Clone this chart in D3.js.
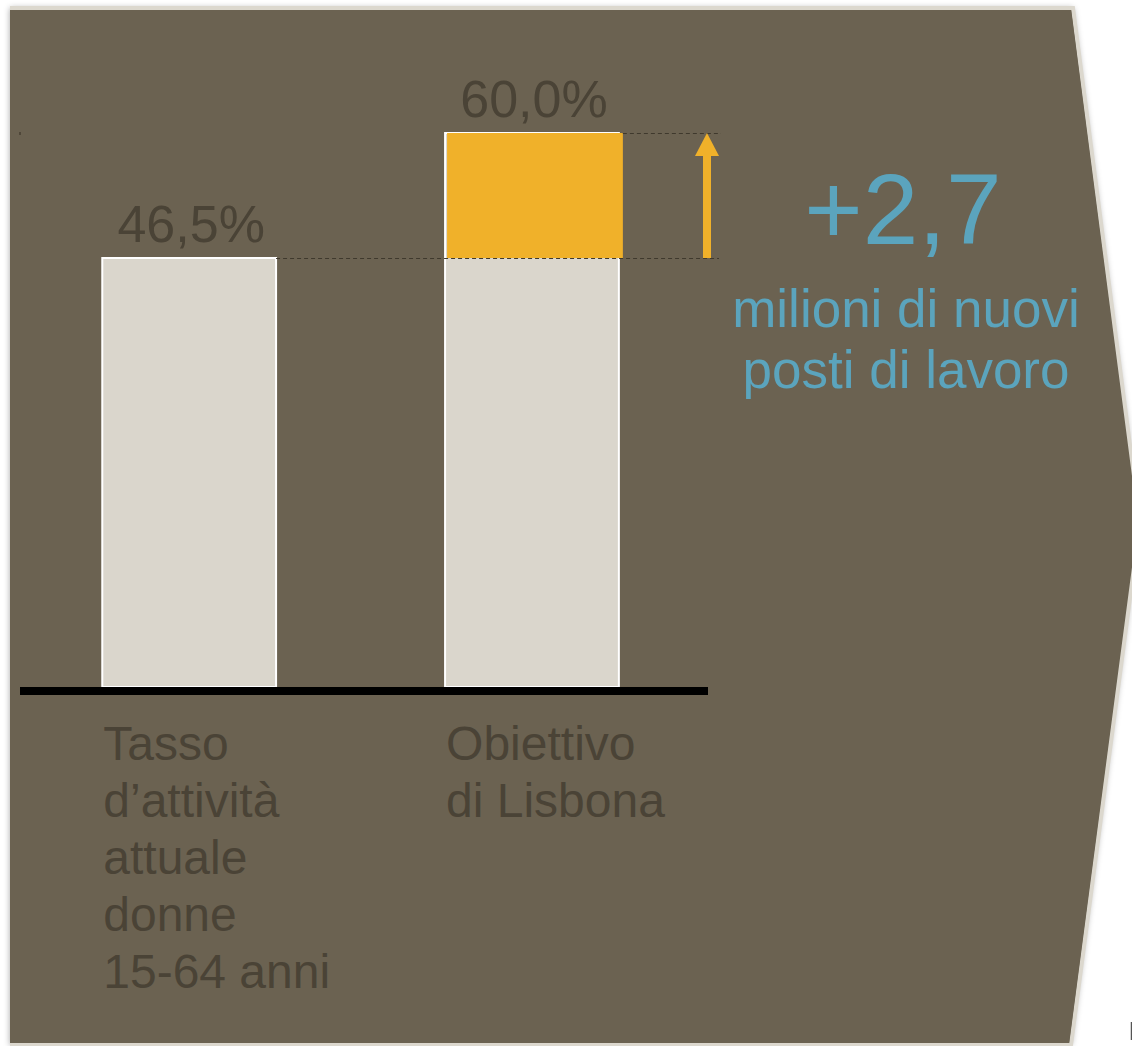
<!DOCTYPE html>
<html>
<head>
<meta charset="utf-8">
<script src="https://cdn.jsdelivr.net/npm/d3@7"></script>
<style>
  body { margin: 0; background: #fff; }
  text { font-family: "Liberation Sans", Arial, sans-serif; }
</style>
</head>
<body>
<div id="viz-container"></div>
<script>
const categories = ["attuale", "obiettivo"];
const categoryLines = [
  ["Tasso", "d’attività", "attuale", "donne", "15-64 anni"],
  ["Obiettivo", "di Lisbona"]
];
const baseValues = [46.5, 46.5];
const gapValues = [0, 13.5];
const valueLabels = ["46,5%", "60,0%"];
const highlightValue = "+2,7";
const highlightLines = ["milioni di nuovi", "posti di lavoro"];

function chevronVisual() {
  const width = 1132, height = 1046;
  const bg = "#6b6251", dark = "#4a4336", blue = "#5ba4bd",
    orange = "#f0b12a", barGray = "#dad6cc", edge = "#dcd8ce";

  const svg = d3.select("#viz-container").append("svg")
    .attr("width", width)
    .attr("height", height);

  svg.append("defs").append("filter")
      .attr("id", "shadow")
      .attr("x", "-5%").attr("y", "-5%")
      .attr("width", "110%").attr("height", "110%")
    .append("feDropShadow")
      .attr("dx", 0).attr("dy", 0)
      .attr("stdDeviation", 3)
      .attr("flood-color", "#000")
      .attr("flood-opacity", 0.35);

  // panel with pointed right side
  svg.append("polygon")
    .attr("points", "10,8 1073,8 1140,522 1071,1045 10,1045")
    .attr("fill", bg)
    .attr("filter", "url(#shadow)");
  svg.append("polyline")
    .attr("points", "10,8 1073,8 1140,522 1071,1045 10,1045")
    .attr("fill", "none")
    .attr("stroke", edge)
    .attr("stroke-width", 4);
  svg.append("polygon")
    .attr("points", "10,10 1071,10 1137,522 1069,1043 10,1043")
    .attr("fill", bg);

  const x = d3.scaleBand()
    .domain(categories)
    .range([20, 708])
    .paddingInner(0.493)
    .paddingOuter(0.25)
    .align(0.48);

  const y = d3.scaleLinear()
    .domain([0, 60])
    .range([687, 133])
    .interpolate(d3.interpolateRound);

  const rows = categories.map((c, i) => ({
    key: c, base: baseValues[i], gap: gapValues[i],
    total: baseValues[i] + gapValues[i], label: valueLabels[i], lines: categoryLines[i]
  }));

  // bars
  svg.append("g")
    .selectAll("rect")
    .data(rows)
    .join("rect")
      .attr("x", d => x(d.key))
      .attr("y", d => y(d.total))
      .attr("width", x.bandwidth())
      .attr("height", d => y(0) - y(d.total))
      .attr("fill", barGray)
      .attr("stroke", "#fff")
      .attr("stroke-width", 2);

  svg.append("g")
    .selectAll("rect")
    .data(rows.filter(d => d.gap > 0))
    .join("rect")
      .attr("x", d => x(d.key) + 2)
      .attr("y", d => y(d.total))
      .attr("width", x.bandwidth() + 2)
      .attr("height", d => y(d.base) - y(d.total))
      .attr("fill", orange);

  // dashed reference lines
  const lineEnd = x.range()[1] + 11;
  svg.append("line")
    .attr("x1", x(categories[0]) + x.bandwidth()).attr("x2", lineEnd)
    .attr("y1", y(baseValues[0]) + 0.5).attr("y2", y(baseValues[0]) + 0.5)
    .attr("stroke", "#3f392d").attr("stroke-width", 1).attr("stroke-dasharray", "4,3");
  svg.append("line")
    .attr("x1", x(categories[1]) + x.bandwidth() + 4).attr("x2", lineEnd + 2)
    .attr("y1", y(baseValues[1] + gapValues[1]) + 0.5).attr("y2", y(baseValues[1] + gapValues[1]) + 0.5)
    .attr("stroke", "#3f392d").attr("stroke-width", 1).attr("stroke-dasharray", "4,3");
  svg.append("rect")
    .attr("x", 19).attr("y", y(60) - 1).attr("width", 2).attr("height", 3)
    .attr("fill", "#4f4739");

  // arrow
  const ax = x.range()[1] - 1;
  svg.append("rect")
    .attr("x", ax - 4).attr("y", y(60) + 20)
    .attr("width", 8).attr("height", y(46.5) - y(60) - 20)
    .attr("fill", orange);
  svg.append("path")
    .attr("d", `M${ax},${y(60)} L${ax + 12},${y(60) + 23} L${ax - 12},${y(60) + 23} Z`)
    .attr("fill", orange);

  // baseline
  svg.append("line")
    .attr("x1", 20).attr("x2", 708)
    .attr("y1", y(0) + 4).attr("y2", y(0) + 4)
    .attr("stroke", "#000").attr("stroke-width", 8);

  // value labels
  svg.append("g")
    .selectAll("text")
    .data(rows)
    .join("text")
      .attr("x", d => x(d.key) + x.bandwidth() / 2 + 2)
      .attr("y", d => y(d.total) - 16)
      .attr("text-anchor", "middle")
      .attr("font-size", 52)
      .attr("fill", dark)
      .text(d => d.label);

  // category labels
  svg.append("g")
    .selectAll("text")
    .data(rows)
    .join("text")
      .attr("x", d => x(d.key) + 1)
      .attr("y", 760)
      .attr("font-size", 48)
      .attr("fill", dark)
    .selectAll("tspan")
    .data(d => d.lines)
    .join("tspan")
      .attr("x", function() { return this.parentNode.getAttribute("x"); })
      .attr("dy", (d, i) => i === 0 ? 0 : 57)
      .text(d => d);

  // highlight
  svg.append("text")
    .attr("x", 903).attr("y", 244)
    .attr("text-anchor", "middle")
    .attr("font-size", 100)
    .attr("fill", blue)
    .text(highlightValue);

  svg.append("text")
    .attr("x", 906).attr("y", 327)
    .attr("text-anchor", "middle")
    .attr("font-size", 53)
    .attr("fill", blue)
    .selectAll("tspan")
    .data(highlightLines)
    .join("tspan")
      .attr("x", 906)
      .attr("dy", (d, i) => i === 0 ? 0 : 61)
      .text(d => d);

  svg.append("line")
    .attr("x1", 1131.5).attr("x2", 1131.5)
    .attr("y1", 1022).attr("y2", 1040)
    .attr("stroke", "#555").attr("stroke-width", 1.5);
}

chevronVisual();
</script>
</body>
</html>
